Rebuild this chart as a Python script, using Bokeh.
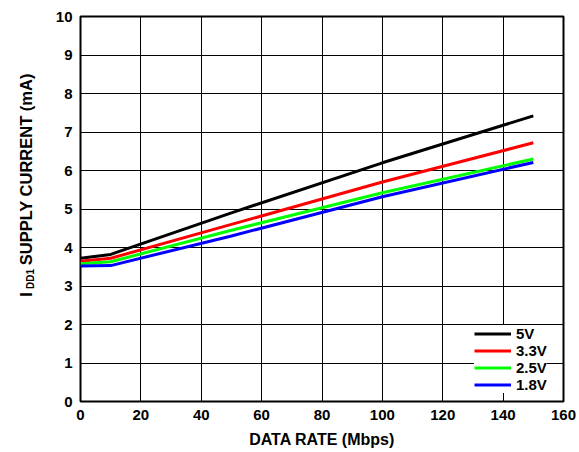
import math
from bokeh.plotting import figure
from bokeh.layouts import row
from bokeh.models import Range1d, FixedTicker, Legend, LegendItem
from bokeh.core.properties import value
from bokeh.embed import file_html
from bokeh.resources import INLINE

# Data
data_rate = [0, 10, 50, 100, 150]
i_5v = [3.72, 3.82, 4.90, 6.20, 7.42]
i_3v3 = [3.64, 3.72, 4.60, 5.70, 6.72]
i_2v5 = [3.58, 3.63, 4.45, 5.42, 6.30]
i_1v8 = [3.52, 3.53, 4.30, 5.32, 6.21]
series_labels = ["5V", "3.3V", "2.5V", "1.8V"]
series_colors = ["#000000", "#ff0000", "#00ff00", "#0000ff"]
x_ticks = [0, 20, 40, 60, 80, 100, 120, 140, 160]
y_ticks = [0, 1, 2, 3, 4, 5, 6, 7, 8, 9, 10]
y_label_symbol = "I"
y_label_sub = "DD1"
y_label_rest = "SUPPLY CURRENT (mA)"
x_label = "DATA RATE (Mbps)"

FONT = "Liberation Sans"
LEFT_W = 45
H = 452

# ---- narrow panel holding the rotated y-axis title (with subscript) ----
lp = figure(width=LEFT_W, height=H, output_backend="svg", toolbar_location=None,
            x_range=Range1d(0, LEFT_W), y_range=Range1d(0, H),
            x_axis_type=None, y_axis_type=None,
            min_border=0, min_border_left=0, min_border_right=0,
            min_border_top=0, min_border_bottom=0)
lp.outline_line_color = None
lp.grid.visible = False
lp.background_fill_color = "white"
lp.border_fill_color = "white"

ang = math.pi / 2
# positions in this panel's pixel space (y measured upward from its bottom)
lp.text(x=[25], y=[H - 329], text=[y_label_symbol], angle=ang,
        text_font=value(FONT), text_font_style="bold", text_font_size="16.5px",
        text_align="left", text_baseline="middle", text_color="black")
lp.text(x=[29.5], y=[H - 320], text=[y_label_sub], angle=ang,
        text_font=value(FONT), text_font_style="bold", text_font_size="10px",
        text_align="left", text_baseline="middle", text_color="black")
lp.text(x=[25], y=[H - 292], text=[y_label_rest], angle=ang,
        text_font=value(FONT), text_font_style="bold", text_font_size="16.5px",
        text_align="left", text_baseline="middle", text_color="black")

# ---- main chart ----
p = figure(width=579 - LEFT_W, height=H, output_backend="svg", toolbar_location=None,
           x_range=Range1d(0, 160), y_range=Range1d(0, 10),
           min_border_left=80 - LEFT_W, min_border_right=16, min_border_top=16,
           min_border_bottom=51)
p.background_fill_color = "white"
p.border_fill_color = "white"
p.outline_line_color = "black"
p.outline_line_width = 2

renderers = []
for ys, c in zip([i_5v, i_3v3, i_2v5, i_1v8], series_colors):
    r = p.line(data_rate, ys, line_color=c, line_width=3)
    renderers.append(r)

p.xaxis.ticker = FixedTicker(ticks=x_ticks)
p.yaxis.ticker = FixedTicker(ticks=y_ticks)
for ax in (p.xaxis[0], p.yaxis[0]):
    ax.axis_line_color = None
    ax.major_tick_in = 0
    ax.major_tick_out = 0
    ax.minor_tick_line_color = None
    ax.major_label_standoff = 8
    ax.major_label_text_font = FONT
    ax.major_label_text_font_style = "bold"
    ax.major_label_text_font_size = "15px"
    ax.major_label_text_color = "black"

p.xaxis.axis_label = x_label
p.xaxis.axis_label_text_font = FONT
p.xaxis.axis_label_text_font_style = "bold"
p.xaxis.axis_label_text_font_size = "16px"
p.xaxis.axis_label_text_color = "black"
p.xaxis.axis_label_standoff = 8

p.xgrid.grid_line_color = "black"
p.ygrid.grid_line_color = "black"
p.xgrid.grid_line_width = 1
p.ygrid.grid_line_width = 1
p.xgrid.grid_line_alpha = 1.0
p.ygrid.grid_line_alpha = 1.0

legend = Legend(items=[LegendItem(label=lbl, renderers=[r])
                       for lbl, r in zip(series_labels, renderers)],
                location=(394, 8))
legend.margin = 0
legend.padding = 6
legend.spacing = 0
legend.glyph_width = 37
legend.glyph_height = 17
legend.label_height = 17
legend.label_standoff = 5
legend.label_text_font = FONT
legend.label_text_font_style = "bold"
legend.label_text_font_size = "15px"
legend.label_text_color = "black"
legend.border_line_color = None
legend.background_fill_color = "white"
legend.background_fill_alpha = 1
p.add_layout(legend)

layout = row(lp, p, spacing=0)
open("out.html", "w").write(file_html(layout, INLINE))
